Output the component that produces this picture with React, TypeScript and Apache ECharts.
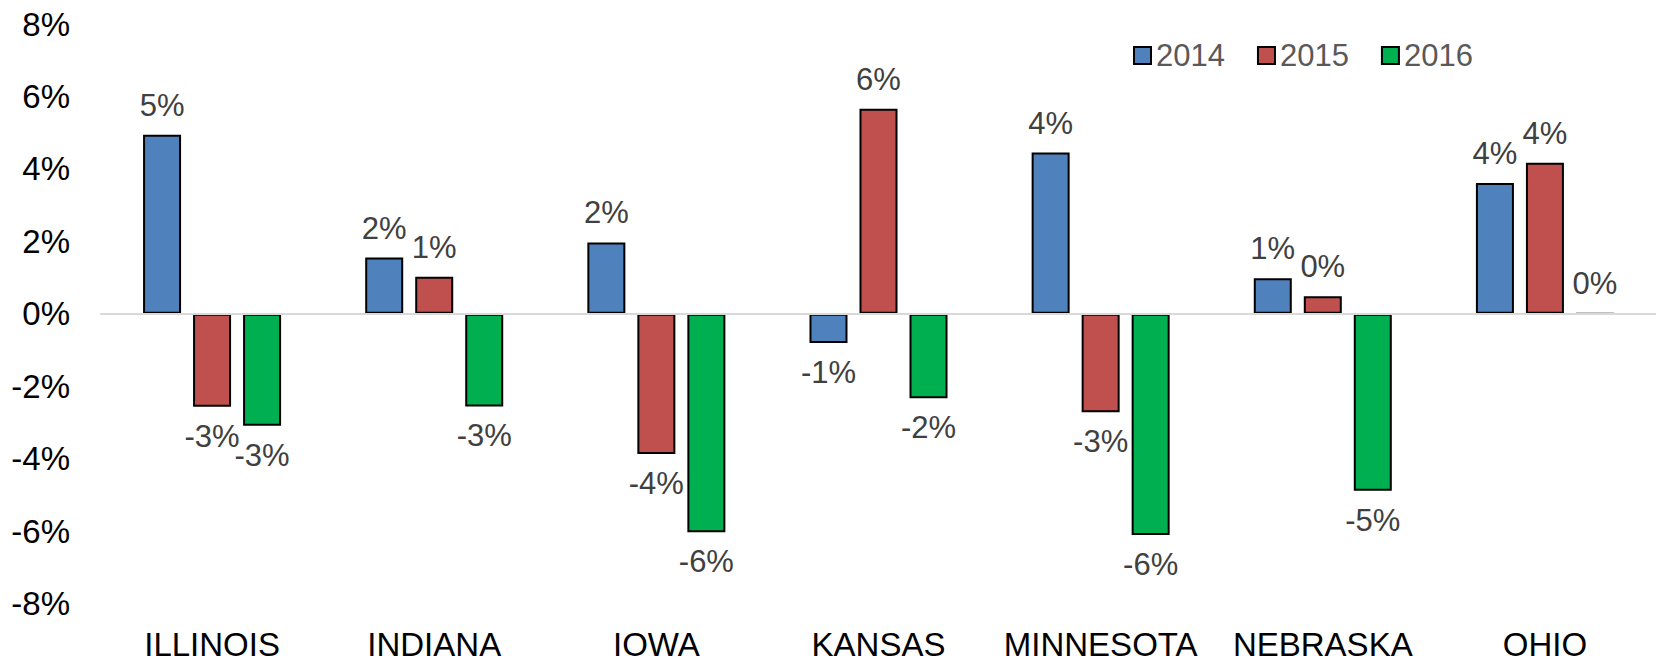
import React, { useEffect, useRef } from "react";
import * as echarts from "echarts";

const categories = ["ILLINOIS", "INDIANA", "IOWA", "KANSAS", "MINNESOTA", "NEBRASKA", "OHIO"];
const seriesNames = ["2014", "2015", "2016"];
const values2014 = [4.94, 1.55, 1.97, -0.81, 4.45, 0.98, 3.61];
const values2015 = [-2.57, 1.02, -3.87, 5.66, -2.72, 0.48, 4.17];
const values2016 = [-3.09, -2.56, -6.03, -2.33, -6.11, -4.89, 0];
const colors = ["#4F81BD", "#C0504D", "#00B050"];
const yTicks = { min: -8, max: 8, interval: 2 };

const FONT = "'Liberation Sans', Arial, sans-serif";

export default function App() {
  const ref = useRef<HTMLDivElement>(null);
  useEffect(() => {
    document.body.style.margin = "0";
    if (!ref.current) return;
    const chart = echarts.init(ref.current, null, { renderer: "svg" });
    const all = [values2014, values2015, values2016];
    const series: any[] = all.map((vals, i) => ({
      name: seriesNames[i],
      type: "bar",
      xAxisIndex: 0,
      barWidth: 38,
      barGap: "31.6%",
      itemStyle: { color: colors[i], borderColor: "#000", borderWidth: 2 },
      data: vals.map((v) => ({
        value: v,
        label: { position: v >= 0 ? "top" : "bottom" },
      })),
      label: {
        show: true,
        distance: 14,
        color: "#404040",
        fontSize: 31,
        fontFamily: FONT,
        formatter: (p: any) => `${Math.round(p.value)}%`,
      },
    }));
    chart.setOption({
      animation: false,
      textStyle: { fontFamily: FONT },
      legend: {
        data: seriesNames,
        left: 1128,
        top: 35,
        itemWidth: 17,
        itemHeight: 17,
        itemGap: 32,
        icon: "rect",
        textStyle: { fontSize: 31, color: "#595959", fontFamily: FONT },
        itemStyle: { borderColor: "#000", borderWidth: 2 },
      },
      grid: { left: 101, right: -13, top: 24, bottom: 57, containLabel: false },
      xAxis: [
        {
          type: "category",
          data: categories,
          position: "bottom",
          axisLine: { show: false, onZero: false },
          axisTick: { show: false },
          axisLabel: { interval: 0, fontSize: 33, lineHeight: 26, color: "#000", margin: 28, fontFamily: FONT },
        },
        {
          type: "category",
          data: categories,
          position: "bottom",
          z: 5,
          axisLine: { show: true, onZero: true, lineStyle: { color: "#d9d9d9", width: 2 } },
          axisTick: { show: false },
          axisLabel: { show: false },
        },
      ],
      yAxis: {
        type: "value",
        min: yTicks.min,
        max: yTicks.max,
        interval: yTicks.interval,
        axisLine: { show: false },
        axisTick: { show: false },
        splitLine: { show: false },
        axisLabel: { fontSize: 33, color: "#000", margin: 31, formatter: "{value}%", fontFamily: FONT },
      },
      series,
    });
    return () => chart.dispose();
  }, []);
  return <div ref={ref} style={{ width: 1656, height: 661 }} />;
}
